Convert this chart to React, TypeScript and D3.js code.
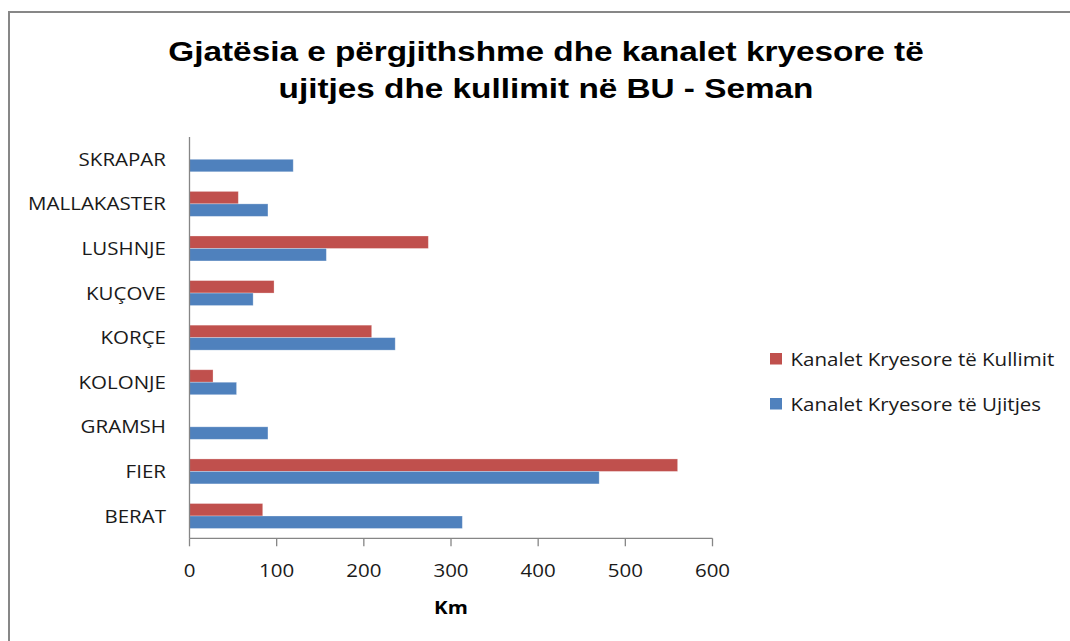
import * as d3 from 'd3';

const categories = ['BERAT', 'FIER', 'GRAMSH', 'KOLONJE', 'KORÇE', 'KUÇOVE', 'LUSHNJE', 'MALLAKASTER', 'SKRAPAR'];
const ujitjes = [313, 470, 90, 54, 236, 73, 157, 90, 119];
const kullimit = [84, 560, 0, 27, 209, 97, 274, 56, 0];
const xTicks = [0, 100, 200, 300, 400, 500, 600];
const titleLines = ['Gjatësia e përgjithshme dhe kanalet kryesore të', 'ujitjes dhe kullimit në BU - Seman'];
const seriesNames = ['Kanalet Kryesore të Kullimit', 'Kanalet Kryesore të Ujitjes'];

const RED = '#C0504D';
const BLUE = '#4F81BD';
const AXIS = '#868686';
const BODY_FONT = '"Open Sans", sans-serif';
// the picture is wider than the fonts we have, so text gets stretched a bit
const SX = 1.14;
const TITLE_SX = 1.19;

function StretchText({ x, y, sx, anchor = 'start', children, ...rest }: any) {
  return (
    <text transform={`translate(${x},${y}) scale(${sx},1)`} textAnchor={anchor} {...rest}>
      {children}
    </text>
  );
}

export default function App() {
  const width = 1070;
  const height = 641;
  const margin = { left: 189.5, right: 712.5, top: 137, bottom: 538.3 };

  const x = d3.scaleLinear().domain([0, 600]).range([margin.left, margin.right]);
  // SKRAPAR on top, BERAT at the bottom
  const y = d3.scaleBand<string>()
    .domain([...categories].reverse())
    .range([margin.top, margin.bottom])
    .paddingInner(0.44)
    .paddingOuter(0.22);
  const inner = d3.scaleBand<string>()
    .domain(['kullimit', 'ujitjes'])
    .range([0, y.bandwidth()]);

  const rows = categories.map((c, i) => ({ c, kullimit: kullimit[i], ujitjes: ujitjes[i] }));

  return (
    <svg width={width} height={height} style={{ position: 'absolute', left: 0, top: 0, display: 'block', background: '#fff' }}>
      <rect x={9} y={12} width={1100} height={700} fill="#fff" stroke="#878787" strokeWidth={2} />

      {titleLines.map((t, i) => (
        <StretchText key={i} x={546} y={60.5 + i * 37} sx={TITLE_SX} anchor="middle"
          fontFamily='"Liberation Sans", Arial, sans-serif' fontWeight="bold" fontSize={28} fill="#000">
          {t}
        </StretchText>
      ))}

      {/* bars */}
      {rows.map(r => (
        <g key={r.c} transform={`translate(0,${y(r.c)})`}>
          {r.kullimit > 0 && (
            <rect x={x(0)} y={inner('kullimit')} width={x(r.kullimit) - x(0)} height={inner.bandwidth()}
              fill={RED} stroke="#fff" strokeOpacity={0.35} strokeWidth={0.8} />
          )}
          {r.ujitjes > 0 && (
            <rect x={x(0)} y={inner('ujitjes')} width={x(r.ujitjes) - x(0)} height={inner.bandwidth()}
              fill={BLUE} stroke="#fff" strokeOpacity={0.35} strokeWidth={0.8} />
          )}
        </g>
      ))}

      {/* y axis */}
      <line x1={margin.left} x2={margin.left} y1={margin.top} y2={margin.bottom} stroke={AXIS} strokeWidth={1.3} />
      {categories.map(c => (
        <StretchText key={c} x={166} y={(y(c) ?? 0) + y.bandwidth() / 2 + 6.5} sx={SX} anchor="end"
          fontFamily={BODY_FONT} fontSize={18} fill="#1a1a1a">
          {c}
        </StretchText>
      ))}

      {/* x axis */}
      <line x1={margin.left} x2={margin.right} y1={margin.bottom} y2={margin.bottom} stroke={AXIS} strokeWidth={1.3} />
      {xTicks.map(t => (
        <g key={t}>
          <line x1={x(t)} x2={x(t)} y1={margin.bottom} y2={margin.bottom + 8} stroke={AXIS} strokeWidth={1.3} />
          <StretchText x={x(t)} y={577} sx={SX} anchor="middle" fontFamily={BODY_FONT} fontSize={18} fill="#1a1a1a">
            {t}
          </StretchText>
        </g>
      ))}
      <StretchText x={(margin.left + margin.right) / 2} y={614} sx={SX} anchor="middle"
        fontFamily={BODY_FONT} fontWeight="bold" fontSize={18} fill="#000">
        Km
      </StretchText>

      {/* legend */}
      {seriesNames.map((name, i) => (
        <g key={name}>
          <rect x={770} y={353 + i * 45} width={12} height={11.5} fill={i === 0 ? RED : BLUE} />
          <StretchText x={790.5} y={365.5 + i * 45} sx={SX} fontFamily={BODY_FONT} fontSize={18} fill="#1a1a1a">
            {name}
          </StretchText>
        </g>
      ))}
    </svg>
  );
}
